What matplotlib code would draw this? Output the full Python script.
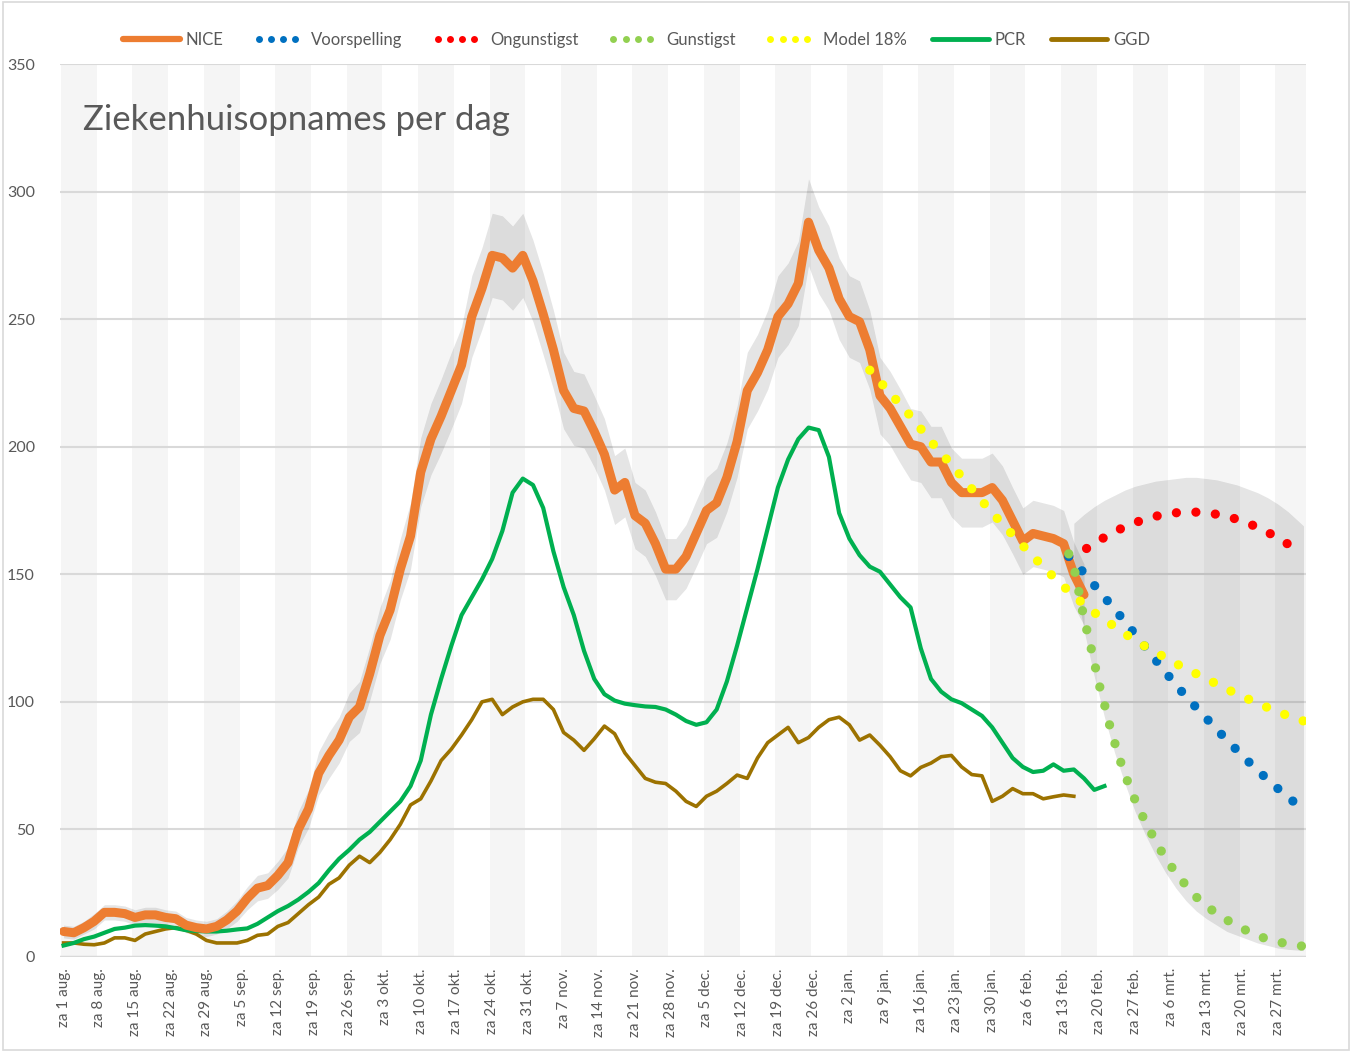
import matplotlib
matplotlib.use("Agg")
import matplotlib.pyplot as plt
from matplotlib.lines import Line2D
from matplotlib.patches import Rectangle
from matplotlib.legend_handler import HandlerLine2D

plt.rcParams['font.family'] = ['Lato', 'DejaVu Sans']

# days since Sat 1 Aug 2020, every 2 days
NICE_DAYS = list(range(0, 201, 2))
NICE = [10, 9.5, 11.5, 14, 17.5, 17.5, 17, 15.5, 16.5, 16.5,
        15.5, 15, 12.5, 11.5, 11, 12, 14.5, 18, 23, 27,
        28, 32, 37, 50, 58, 72, 79, 85, 94, 98,
        111, 126, 136, 152, 165, 190, 203, 212, 222, 232,
        251, 262, 275, 274, 270, 275, 265, 252, 238, 222,
        215, 214, 206, 197, 183, 186, 173, 170, 162, 152,
        152, 157, 166, 175, 178, 188, 202, 222, 229, 238,
        251, 256, 264, 288, 277, 270, 258, 251, 249, 238,
        220, 215, 208, 201, 200, 194, 194, 186, 182, 182,
        182, 184, 179, 171, 163, 166, 165, 164, 162, 150,
        142]
NICE_HW = [2.5, 2.5, 2.5, 3, 3, 3, 3, 3, 3, 3,
           3, 3, 3, 3, 3, 3, 3.5, 4, 4.5, 5,
           5, 5.5, 6, 7, 7.5, 8.5, 9, 9, 9.5, 10,
           10.5, 11, 11.5, 12, 13, 13.5, 14, 14.5, 15, 15,
           16, 16, 16.5, 16.5, 16.5, 16.5, 16, 16, 15.5, 15,
           14.5, 14.5, 14, 14, 13.5, 13.5, 13, 13, 12.5, 12,
           12, 12.5, 13, 13, 13.5, 13.5, 14, 15, 15, 15.5,
           16, 16, 16.5, 17, 17, 16.5, 16, 16, 16, 15.5,
           15, 14.5, 14.5, 14, 14, 14, 14, 13.5, 13.5, 13.5,
           13.5, 13.5, 13.5, 13, 13, 13, 13, 13, 13, 12.5,
           12]

PCR_DAYS = list(range(0, 205, 2))
PCR = [4.5, 5.5, 7, 8, 9.5, 11, 11.5, 12.3, 12.5, 12.3,
       12, 11.3, 10.5, 10.2, 10, 10, 10.3, 10.8, 11.2, 13,
       15.5, 18, 20, 22.5, 25.5, 29, 34, 38.5, 42, 46,
       49, 53, 57, 61, 67, 77, 95, 109, 122, 134,
       141, 148, 156, 167, 182, 187.5, 185, 176, 159, 145,
       134, 120, 109, 103, 100.5, 99.3, 98.7, 98.2, 98, 97,
       95, 92.5, 91, 92, 97, 108, 122, 137, 152, 168,
       184, 195, 203, 207.5, 206.5, 196, 174, 164, 157.5, 153,
       151, 146, 141, 137, 121, 109, 104, 101, 99.5, 97,
       94.5, 90, 84, 78, 74.5, 72.5, 73, 75.5, 73, 73.5,
       70, 65.5, 67]

GGD_DAYS = list(range(0, 199, 2))
GGD = [5.5, 5.5, 5, 4.8, 5.5, 7.5, 7.5, 6.5, 9, 10,
       11, 11.5, 10.5, 9, 6.5, 5.5, 5.5, 5.5, 6.5, 8.5,
       9, 12, 13.5, 17, 20.5, 23.5, 28.5, 31, 36, 39.5,
       37, 41, 46, 52, 59.6, 62, 69, 77, 81.5, 87,
       93, 100, 101, 95, 98, 100, 101, 101, 97, 88,
       85, 81, 85.5, 90.5, 87.5, 80, 75, 70, 68.5, 68,
       65, 61, 59, 63, 65, 68, 71.3, 70, 78, 84,
       87, 90, 84, 86, 90, 93, 94, 91, 85, 87,
       83, 78.5, 73, 71, 74.3, 76, 78.5, 79, 74.5, 71.5,
       71, 61, 63, 66, 64, 64, 62, 62.8, 63.5, 63]

# scenarios
FC_DAYS = [197, 200, 204, 208, 212, 216, 220, 224, 228, 232, 236, 240, 243]
VOORSPELLING = [157, 150.5, 141, 131.5, 121.5, 111.5, 102, 93.5, 85, 77, 69.5, 62.5, 58]
ONGUNSTIGST = [157, 159.5, 164.5, 168.7, 171.7, 173.7, 174.5, 174.2, 172.8, 170.2, 166.5, 161.8, 158]
GUNST_DAYS = [197, 198, 199, 200, 201, 202, 203, 204, 205, 206, 207, 208, 210, 212, 214,
              216, 218, 220, 222, 224, 226, 228, 230, 232, 234, 236, 238, 240, 243]
GUNSTIGST = [158, 153, 143, 132.5, 124.5, 115.5, 106.5, 99, 91, 84, 77.5, 71.5, 61.5, 53, 45.5,
             38.5, 33, 28, 23.5, 20, 17, 14.5, 12.3, 10.2, 8.3, 7, 6, 5, 4.2]
MODEL_DAYS = [158, 162, 166, 170, 174, 178, 182, 186, 190, 194, 198, 202, 206, 210, 214,
              218, 222, 226, 230, 234, 238, 243]
MODEL18 = [230, 221, 212, 202, 193, 183.5, 174, 165.5, 157, 149, 141.5, 135, 129.5, 124, 119.5,
           115, 111, 107, 103, 99.5, 96, 92.5]
BAND_DAYS = [198, 200, 202, 204, 206, 208, 210, 212, 214, 216, 218, 220, 222, 224, 226,
             228, 230, 232, 234, 236, 238, 240, 243]
BAND_HI = [170, 173.5, 176.5, 179, 181, 183, 184.5, 185.5, 186.5, 187, 187.5, 188, 188, 187.5, 187,
           186, 185, 183.5, 182, 180, 177.5, 174.5, 169]
BAND_LO = [150, 128, 110, 94, 80, 68, 57, 48, 40, 33, 27, 22, 18, 15, 12.5,
           10, 8.5, 7, 5.5, 4.5, 3.5, 3, 2.5]

TICK_LABELS = ["za 1 aug.", "za 8 aug.", "za 15 aug.", "za 22 aug.", "za 29 aug.",
               "za 5 sep.", "za 12 sep.", "za 19 sep.", "za 26 sep.",
               "za 3 okt.", "za 10 okt.", "za 17 okt.", "za 24 okt.", "za 31 okt.",
               "za 7 nov.", "za 14 nov.", "za 21 nov.", "za 28 nov.",
               "za 5 dec.", "za 12 dec.", "za 19 dec.", "za 26 dec.",
               "za 2 jan.", "za 9 jan.", "za 16 jan.", "za 23 jan.", "za 30 jan.",
               "za 6 feb.", "za 13 feb.", "za 20 feb.", "za 27 feb.",
               "za 6 mrt.", "za 13 mrt.", "za 20 mrt.", "za 27 mrt."]

C_NICE = '#ED7D31'
C_BLUE = '#0070C0'
C_RED = '#FF0000'
C_LGREEN = '#92D050'
C_YELLOW = '#FFFF00'
C_PCR = '#00B050'
C_GGD = '#9C7200'
TXT = '#595959'

fig = plt.figure(figsize=(13.52, 10.52), dpi=100)
ax = fig.add_axes([60 / 1352, 1 - 957 / 1052, 1246 / 1352, 893 / 1052])
fig.patches.append(Rectangle((0.002, 0.002), 0.996, 0.996, transform=fig.transFigure,
                             fill=False, edgecolor='#d9d9d9', lw=1.2))

# weekly stripes
n_weeks = len(TICK_LABELS)
for k in range(0, n_weeks, 2):
    ax.axvspan(7 * k - 0.5, 7 * k + 6.5, color='#f5f5f5', lw=0, zorder=0)

for v in range(50, 351, 50):
    ax.axhline(v, color='#d9d9d9', lw=1.5, zorder=1)
ax.axhline(0, color='#d9d9d9', lw=2.5, zorder=1)

ax.fill_between(BAND_DAYS, BAND_LO, BAND_HI, color='k', alpha=0.1, lw=0, zorder=2)
lo = [v - h for v, h in zip(NICE, NICE_HW)]
hi = [v + h for v, h in zip(NICE, NICE_HW)]
ax.fill_between(NICE_DAYS, lo, hi, color='k', alpha=0.1, lw=0, zorder=2)

ax.plot(GGD_DAYS, GGD, color=C_GGD, lw=2.6, solid_joinstyle='round', zorder=3)
ax.plot(PCR_DAYS, PCR, color=C_PCR, lw=3.0, solid_joinstyle='round', zorder=3)
ax.plot(NICE_DAYS, NICE, color=C_NICE, lw=6.5, solid_joinstyle='round',
        solid_capstyle='round', zorder=4)

dots = dict(lw=6.7, linestyle=(0, (0.001, 2.1)), dash_capstyle='round', zorder=5)
ax.plot(FC_DAYS, ONGUNSTIGST, color=C_RED, **dots)
ax.plot(FC_DAYS, VOORSPELLING, color=C_BLUE, **dots)
ax.plot(MODEL_DAYS, MODEL18, color=C_YELLOW, **dots)
ax.plot(GUNST_DAYS, GUNSTIGST, color=C_LGREEN, **dots)

ax.set_xlim(-0.7, 243.5)
ax.set_ylim(0, 350)
ax.set_xticks([7 * k for k in range(n_weeks)])
ax.set_xticklabels(TICK_LABELS, rotation=90, fontsize=11, color=TXT)
ax.set_yticks(range(0, 351, 50))
ax.set_yticklabels([str(v) for v in range(0, 351, 50)], fontsize=11.5, color=TXT)
ax.tick_params(length=0, pad=8)
ax.tick_params(axis='y', pad=18)
for s in ax.spines.values():
    s.set_visible(False)

ax.text(0.0185, 0.937, "Ziekenhuisopnames per dag", transform=ax.transAxes,
        fontsize=25, color=TXT, va='center', ha='left')

def dot_handle(c):
    return Line2D([], [], color=c, linestyle='None', marker='o', markersize=5,
                  markeredgewidth=0)

dotted = [dot_handle(C_BLUE), dot_handle(C_RED), dot_handle(C_LGREEN), dot_handle(C_YELLOW)]
handles = [Line2D([], [], color=C_NICE, lw=4.5, solid_capstyle='round')] + dotted + [
    Line2D([], [], color=C_PCR, lw=3.5, solid_capstyle='round'),
    Line2D([], [], color=C_GGD, lw=3.5, solid_capstyle='round'),
]
labels = ["NICE", "Voorspelling", "Ongunstigst", "Gunstigst", "Model 18%", "PCR", "GGD"]
hmap = {h: HandlerLine2D(marker_pad=0.6, numpoints=4) for h in dotted}
leg = fig.legend(handles, labels, loc='center', bbox_to_anchor=(0.471, 0.962), ncol=7,
                 frameon=False, fontsize=12, handlelength=3.4, handletextpad=0.35,
                 columnspacing=1.5, handler_map=hmap)
for t in leg.get_texts():
    t.set_color(TXT)

fig.savefig("out.png", dpi=100)
